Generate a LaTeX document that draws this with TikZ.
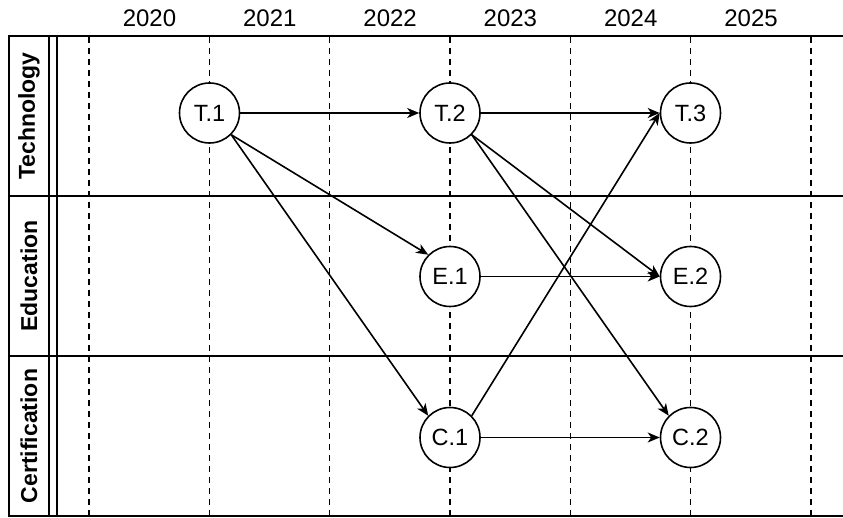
\documentclass[tikz,border=0pt]{standalone}
\usepackage{fontspec}
\setmainfont{Liberation Sans}
\usetikzlibrary{arrows.meta}
\begin{document}
\begin{tikzpicture}[x=1pt,y=-1pt,
  frame/.style={line width=1.8pt},
  gridline/.style={line width=1.4pt, dash pattern=on 6pt off 5pt},
  ev/.style={circle, draw, line width=1.6pt, fill=white, minimum size=60pt, inner sep=0pt, font=\fontsize{23.5}{28}\selectfont},
  year/.style={font=\fontsize{24}{28}\selectfont},
  lane/.style={rotate=90, font=\bfseries\fontsize{23}{27}\selectfont},
  link/.style={line width=1.6pt, -{Stealth[length=12pt,width=10pt,inset=3.5pt]}}
]
\useasboundingbox (0,0) rectangle (843,518);
% dashed year grid
\foreach \i in {0,...,6}
  \draw[gridline] ({89+120.3*\i},37) -- ({89+120.3*\i},516);
% frame
\draw[frame] (843,36) -- (9,36) -- (9,516) -- (843,516);
\draw[frame] (9,196) -- (843,196);
\draw[frame] (9,356) -- (843,356);
\draw[frame] (49,36) -- (49,516);
\draw[frame] (57,36) -- (57,516);
% years
\foreach \y [count=\i from 0] in {2020,2021,2022,2023,2024,2025}
  \node[year] (y\y) at ({149.5+120.3*\i},18) {\y};
% lanes
\node[lane] (lt) at (29,116) {Technology};
\node[lane] (le) at (29,276) {Education};
\node[lane] (lc) at (29,436) {Certification};
% events
\node[ev] (t1) at (209.5,113) {T.1};
\node[ev] (t2) at (450,113) {T.2};
\node[ev] (t3) at (690.5,113) {T.3};
\node[ev] (e1) at (450,276.5) {E.1};
\node[ev] (e2) at (690.5,276.5) {E.2};
\node[ev] (c1) at (450,437.5) {C.1};
\node[ev] (c2) at (690.5,437.5) {C.2};
% links
\draw[link] (t1.east) -- (t2.west);
\draw[link] (t1.south east) -- (e1.north west);
\draw[link] (t1.south east) -- (c1.north west);
\draw[link] (t2.east) -- (t3.west);
\draw[link] (t2.south east) -- (e2.west);
\draw[link] (t2.south east) -- (c2.north west);
\draw[link] (e1.east) -- (e2.west);
\draw[link] (c1.east) -- (c2.west);
\draw[link] (c1.north east) -- (t3.west);
\end{tikzpicture}
\end{document}
